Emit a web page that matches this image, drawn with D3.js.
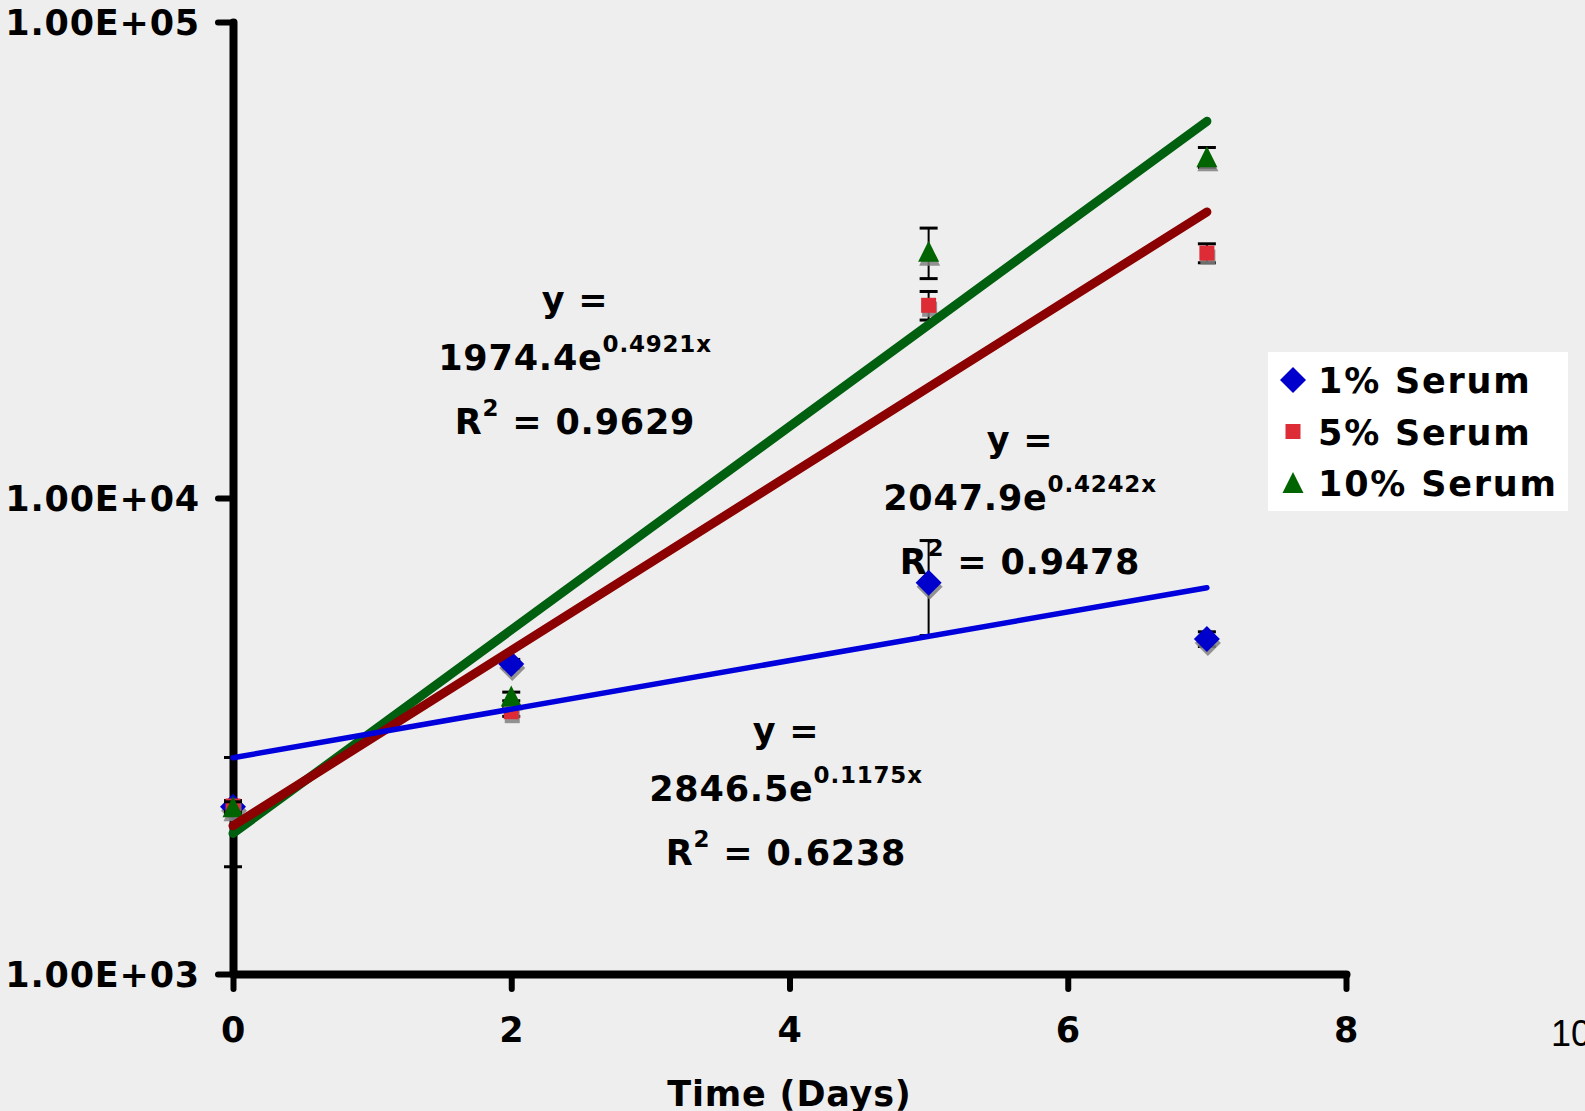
<!doctype html>
<html lang="en">
<head>
<meta charset="UTF-8">
<title>Serum growth</title>
<script src="https://d3js.org/d3.v7.min.js"></script>
<style>
  body { margin: 0; background: #eeeeee; }
  svg { display: block; }
  .lbl { font-family: "DejaVu Sans", Verdana, sans-serif; font-weight: bold; fill: #000; letter-spacing: 0.8px; }
</style>
</head>
<body>
<script>
// data
var days = [0, 2, 5, 7];
var serum1 = [2245, 4480, 6640, 5055];
var serum1Err = [60, 100, 1500, 180];
var serum5 = [2254, 3557, 25400, 32700];
var serum5Err = [60, 80, 1750, 1500];
var serum10 = [2240, 3830, 32900, 52000];
var serum10Err = [60, 80, 4000, 2500];

var seriesNames = ["1% Serum", "5% Serum", "10% Serum"];
// exponential trendlines y = a * e^(b x)
var trendA = [2846.5, 2047.9, 1974.4];
var trendB = [0.1175, 0.4242, 0.4921];
var trendR2 = ["0.6238", "0.9478", "0.9629"];

var xTicks = [0, 2, 4, 6, 8];
var yTicks = [1e3, 1e4, 1e5];
var yTickLabels = ["1.00E+03", "1.00E+04", "1.00E+05"];
var yMinorTicks = [1680, 2850];

var width = 1585, height = 1111;

var svg = d3.select("body").append("svg")
    .attr("width", width)
    .attr("height", height);

svg.append("rect").attr("width", width).attr("height", height).attr("fill", "#eeeeee");

var x = d3.scaleLinear().domain([0, 8]).range([233, 1346]);
var y = d3.scaleLog().domain([1e3, 1e5]).range([974, 22]);

var markerCol = ["#0000cc", "#dd2c35", "#006400"];
var lineCol = ["#0000dd", "#8b0000", "#00600f"];
var lineW = [5.5, 9, 9];

function markerPath(i) {
  if (i === 0) return "M0,-13L13,0L0,13L-13,0Z";
  if (i === 1) return "M-7.5,-7.5H7.5V7.5H-7.5Z";
  return "M0,-11L10.5,10L-10.5,10Z";
}

var series = [serum1, serum5, serum10].map(function(v, i) {
  var err = [serum1Err, serum5Err, serum10Err][i];
  return days.map(function(d, j) { return {x: d, v: v[j], e: err[j], i: i}; });
});

// axes
var axisX = d3.axisBottom(x).tickValues(xTicks).tickSize(15).tickSizeOuter(0).tickPadding(28);
var axisY = d3.axisLeft(y).tickValues(yTicks).tickSize(15).tickSizeOuter(0).tickPadding(18)
    .tickFormat(function(d, k) { return yTickLabels[k]; });

var gx = svg.append("g").attr("transform", "translate(0," + y(1e3) + ")").call(axisX);
var gy = svg.append("g").attr("transform", "translate(" + x(0) + ",0)").call(axisY);

[gx, gy].forEach(function(g) {
  g.select(".domain").attr("stroke", "#000").attr("stroke-width", 8).attr("stroke-linecap", "round");
  g.selectAll(".tick line").attr("stroke", "#000").attr("stroke-width", 6).attr("stroke-linecap", "round");
  g.selectAll(".tick text").attr("class", "lbl").attr("font-size", 35).attr("fill", "#000");
});
gy.selectAll(".tick text").attr("dy", "0.36em");

svg.append("g").selectAll("line")
    .data(yMinorTicks).join("line")
    .attr("x1", x(0) - 9).attr("x2", x(0) + 9)
    .attr("y1", function(d) { return y(d); }).attr("y2", function(d) { return y(d); })
    .attr("stroke", "#000").attr("stroke-width", 3);

// stray label at the right edge, cut off as in the original
svg.append("text")
    .attr("x", 1551).attr("y", 1046)
    .attr("font-family", "Liberation Sans, Arial, sans-serif")
    .attr("font-size", 36)
    .text("10");

svg.append("text").attr("class", "lbl")
    .attr("x", x(4)).attr("y", 1106)
    .attr("text-anchor", "middle").attr("font-size", 35)
    .text("Time (Days)");

// error bars, shadows, markers
series.forEach(function(s, i) {
  var g = svg.append("g");
  var eb = g.selectAll(".eb").data(s).join("g");
  eb.append("line")
      .attr("x1", function(d) { return x(d.x); }).attr("x2", function(d) { return x(d.x); })
      .attr("y1", function(d) { return y(d.v + d.e); }).attr("y2", function(d) { return y(d.v - d.e); })
      .attr("stroke", "#000").attr("stroke-width", 2);
  [1, -1].forEach(function(sg) {
    eb.append("line")
        .attr("x1", function(d) { return x(d.x) - 9; }).attr("x2", function(d) { return x(d.x) + 9; })
        .attr("y1", function(d) { return y(d.v + sg * d.e); }).attr("y2", function(d) { return y(d.v + sg * d.e); })
        .attr("stroke", "#000").attr("stroke-width", 3);
  });
  g.selectAll(".sh").data(s).join("path")
      .attr("d", markerPath(i))
      .attr("transform", function(d) { return "translate(" + (x(d.x) + 1) + "," + (y(d.v) + 4) + ")"; })
      .attr("fill", "#808080").attr("opacity", 0.85);
  g.selectAll(".mk").data(s).join("path")
      .attr("d", markerPath(i))
      .attr("transform", function(d) { return "translate(" + x(d.x) + "," + y(d.v) + ")"; })
      .attr("fill", markerCol[i]);
});

// trendlines
var trendLine = d3.line()
    .x(function(d) { return x(d.x); })
    .y(function(d) { return y(d.v); });

[2, 1, 0].forEach(function(i) {
  var pts = d3.extent(days).map(function(d) { return {x: d, v: trendA[i] * Math.exp(trendB[i] * d)}; });
  svg.append("path")
      .datum(pts)
      .attr("d", trendLine)
      .attr("fill", "none")
      .attr("stroke", lineCol[i])
      .attr("stroke-width", lineW[i])
      .attr("stroke-linecap", "round");
});

// trendline equations
var eqPos = [[786, 743], [1020, 452], [575, 312]];
eqPos.forEach(function(p, i) {
  var g = svg.append("g").attr("class", "lbl").attr("font-size", 35);
  g.append("text").attr("class", "lbl").attr("x", p[0]).attr("y", p[1])
      .attr("text-anchor", "middle").text("y =");
  var t2 = g.append("text").attr("class", "lbl").attr("x", p[0]).attr("y", p[1] + 58)
      .attr("text-anchor", "middle");
  t2.append("tspan").text(trendA[i] + "e");
  t2.append("tspan").attr("font-size", 23).attr("dy", -18).text(trendB[i] + "x");
  var t3 = g.append("text").attr("class", "lbl").attr("x", p[0]).attr("y", p[1] + 122)
      .attr("text-anchor", "middle");
  t3.append("tspan").text("R");
  t3.append("tspan").attr("font-size", 23).attr("dy", -18).text("2");
  t3.append("tspan").attr("dy", 18).text(" = " + trendR2[i]);
});

// legend
var leg = svg.append("g").attr("transform", "translate(1268,352)");
leg.append("rect").attr("width", 300).attr("height", 159).attr("fill", "#ffffff");
var rows = leg.selectAll(".row").data(seriesNames).join("g")
    .attr("transform", function(d, i) { return "translate(0," + (41 + i * 51.5) + ")"; });
rows.append("path")
    .attr("d", function(d, i) { return markerPath(i); })
    .attr("transform", "translate(25,-13)")
    .attr("fill", function(d, i) { return markerCol[i]; });
rows.append("text").attr("class", "lbl")
    .attr("x", 50).attr("font-size", 35)
    .style("letter-spacing", "1.8px")
    .text(function(d) { return d; });
</script>
</body>
</html>
